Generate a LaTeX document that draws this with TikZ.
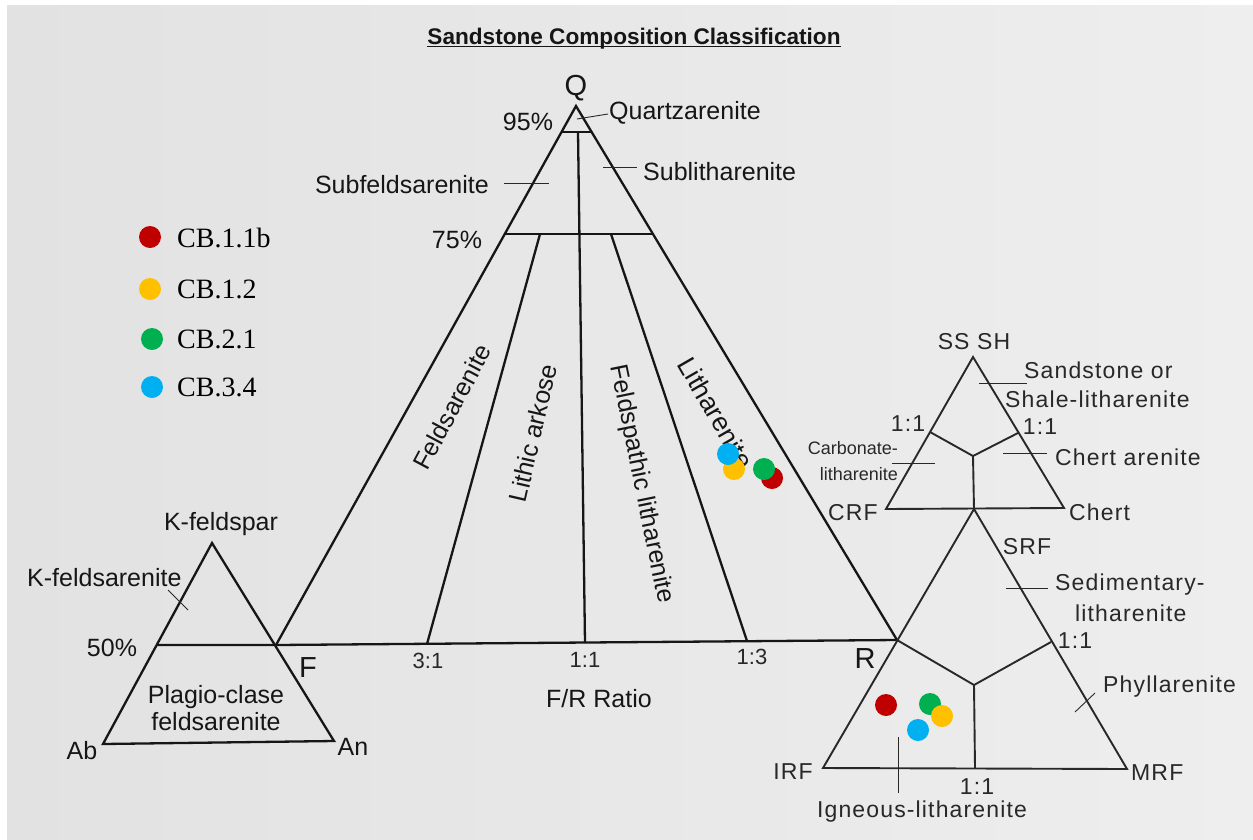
\documentclass[tikz,border=0pt]{standalone}
\usepackage{fontspec}
\setmainfont{Liberation Serif}
\newfontfamily\hv{Liberation Sans}
\newfontfamily\hvw[LetterSpace=5]{Liberation Sans}
\definecolor{ink}{RGB}{22,22,22}
\definecolor{ink2}{RGB}{40,40,40}
\definecolor{bgL}{RGB}{226,226,226}
\definecolor{bgR}{RGB}{238,238,238}
\definecolor{cRed}{RGB}{192,0,0}
\definecolor{cYel}{RGB}{255,192,0}
\definecolor{cGrn}{RGB}{0,176,80}
\definecolor{cBlu}{RGB}{0,176,240}
\begin{document}
\begin{tikzpicture}[x=1pt,y=-1pt,
  lbl/.style={inner sep=0pt, text=ink, font=\hv\fontsize{25}{29}\selectfont},
  rat/.style={inner sep=0pt, text=ink2, font=\hv\fontsize{22}{26}\selectfont},
  mid/.style={inner sep=0pt, text=ink2, font=\hvw\fontsize{23}{27}\selectfont},
  big/.style={inner sep=0pt, text=ink, font=\hv\fontsize{29}{32}\selectfont},
  small/.style={inner sep=0pt, text=ink2, font=\hv\fontsize{18}{26}\selectfont},
  leg/.style={inner sep=0pt, text=black, font=\fontsize{28}{32}\selectfont},
  tri/.style={draw=ink, line width=2.3pt, line join=miter},
  tri2/.style={draw=ink2, line width=1.9pt, line join=miter},
  tick/.style={draw=ink2, line width=0.9pt},
  dot/.style={circle, inner sep=0pt, minimum size=22pt}
]
\useasboundingbox (0,0) rectangle (1253,839);
\fill[white] (0,0) rectangle (1253,839);
\shade[left color=bgL, right color=bgR] (7,5) rectangle (1253,839);

% ---------- title ----------
\node[inner sep=0pt, text=ink, font=\hv\bfseries\fontsize{22.6}{26}\selectfont, anchor=base] (title) at (634,44) {Sandstone Composition Classification};
\draw[ink, line width=1pt] ([yshift=-2pt]title.base west) -- ([yshift=-2pt]title.base east);

% ---------- main triangle ----------
\coordinate (Q) at (576,106);
\coordinate (F) at (276,645);
\coordinate (R) at (897,640);
\coordinate (a95) at (562,132);
\coordinate (b95) at (591,132);
\coordinate (c95) at (578,132);
\coordinate (a75) at (505,234);
\coordinate (b75) at (653,234);
\coordinate (t31) at (540,234);
\coordinate (t13) at (611,234);
\coordinate (r31) at (427,644);
\coordinate (r11) at (585,643);
\coordinate (r13) at (747,641);

% ---------- small feldspar triangle ----------
\coordinate (K) at (212,543);
\coordinate (Ab) at (103,744);
\coordinate (An) at (334,741);
\coordinate (k50) at (157,645);

\draw[tri] (K) -- (Ab) -- (An) -- cycle;
\draw[tri] (k50) -- (F) -- (R);
\draw[tri] (F) -- (Q) -- (R);
\draw[tri] (a95) -- (b95);
\draw[tri] (a75) -- (b75);
\draw[tri] (c95) -- (r11);
\draw[tri] (t31) -- (r31);
\draw[tri] (t13) -- (r13);

% ---------- upper right triangle ----------
\coordinate (S) at (973,357);
\coordinate (C) at (886,509);
\coordinate (H) at (1064,508);
\coordinate (L1) at (930,432);
\coordinate (R1) at (1018,433);
\coordinate (J) at (973,456);
\coordinate (B) at (974,509);
\draw[tri2] (S) -- (C) -- (H) -- cycle;
\draw[tri2] (L1) -- (J) -- (R1);
\draw[tri2] (J) -- (B);

% ---------- lower right triangle ----------
\coordinate (I) at (823,768);
\coordinate (M) at (1127,769);
\coordinate (R2) at (1051,642);
\coordinate (J2) at (974,685);
\coordinate (B2) at (975,768);
\draw[tri2] (B) -- (I) -- (M) -- cycle;
\draw[tri2] (R) -- (J2) -- (R2);
\draw[tri2] (J2) -- (B2);

% ---------- tick marks ----------
\coordinate (tq1) at (577,119); \coordinate (tq2) at (608,114);
\coordinate (ts1) at (603,167); \coordinate (ts2) at (637,167);
\coordinate (tf1) at (504,183); \coordinate (tf2) at (549,183);
\coordinate (tk1) at (168,590); \coordinate (tk2) at (188,610);
\coordinate (tss1) at (979,383); \coordinate (tss2) at (1027,383);
\coordinate (tc1) at (892,463); \coordinate (tc2) at (935,463);
\coordinate (th1) at (1003,453); \coordinate (th2) at (1047,453);
\coordinate (td1) at (1006,588); \coordinate (td2) at (1048,588);
\coordinate (tp1) at (1075,712); \coordinate (tp2) at (1095,693);
\coordinate (ti1) at (898,737); \coordinate (ti2) at (898,793);
\foreach \a/\b in {tq1/tq2, ts1/ts2, tf1/tf2, tk1/tk2, tss1/tss2, tc1/tc2, th1/th2, td1/td2, tp1/tp2, ti1/ti2}
  \draw[tick] (\a) -- (\b);

% ---------- main labels ----------
\node[big] (lQ) at (576,88) {Q};
\node[lbl] (l95) at (528,122) {95\%};
\node[lbl, anchor=west] (lqa) at (609,113) {Quartzarenite};
\node[lbl, anchor=west] (lsl) at (643,172) {Sublitharenite};
\node[lbl, anchor=east] (lsf) at (489,185) {Subfeldsarenite};
\node[lbl] (l75) at (457,240) {75\%};
\node[lbl, rotate=62] (lfa) at (452,407) {Feldsarenite};
\node[lbl, rotate=77] (lla) at (533,433) {Lithic arkose};
\node[lbl, rotate=-78.5] (lfl) at (641,484) {Feldspathic litharenite};
\node[lbl, rotate=-60, font=\hv\fontsize{26.5}{30}\selectfont] (llt) at (716,413) {Litharenite};
\node[rat] (l31) at (428,661) {3:1};
\node[rat] (l11) at (585,660) {1:1};
\node[rat] (l13) at (752,657) {1:3};
\node[lbl] (lfr) at (599,699) {F/R Ratio};
\node[big] (lF) at (308,668) {F};
\node[big] (lR) at (865,659) {R};

% ---------- feldspar triangle labels ----------
\node[lbl] (lkf) at (221,524) {K-feldspar};
\node[lbl, anchor=west] (lks) at (27,578) {K-feldsarenite};
\node[lbl] (l50) at (112,648) {50\%};
\node[lbl, align=center] (lpl) at (216,708) {Plagio-clase\\[-2pt]feldsarenite};
\node[lbl] (lAb) at (82,751) {Ab};
\node[lbl] (lAn) at (353,747) {An};

% ---------- right triangle labels ----------
\node[mid] (lss) at (974,342) {SS SH};
\node[mid, anchor=west] (lso) at (1024,370) {Sandstone or};
\node[mid, anchor=west] (lsh) at (1005,399) {Shale-litharenite};
\node[mid] (l11a) at (908,424) {1:1};
\node[mid] (l11b) at (1040,427) {1:1};
\node[small, align=right, anchor=east] (lcb) at (898,461) {Carbonate-\\litharenite};
\node[mid, anchor=west] (lca) at (1055,457) {Chert arenite};
\node[mid] (lcrf) at (853,513) {CRF};
\node[mid, anchor=west] (lch) at (1069,512) {Chert};
\node[mid] (lsrf) at (1027,547) {SRF};
\node[mid, anchor=west] (lsd) at (1055,585) {Sedimentary-};
\node[mid, anchor=west] (lsd2) at (1075,613) {litharenite};
\node[mid] (l11c) at (1075,641) {1:1};
\node[mid, anchor=west] (lph) at (1103,687) {Phyllarenite};
\node[mid] (lirf) at (793,772) {IRF};
\node[mid, anchor=west] (lmrf) at (1131,773) {MRF};
\node[mid] (l11d) at (977,787) {1:1};
\node[mid] (lig) at (922,812) {Igneous-litharenite};

% ---------- legend ----------
\node[dot, fill=cRed] (g1) at (150,237) {};
\node[dot, fill=cYel] (g2) at (150,289) {};
\node[dot, fill=cGrn] (g3) at (152,339) {};
\node[dot, fill=cBlu] (g4) at (152,387) {};
\node[leg, anchor=west] (t1) at (177,238) {CB.1.1b};
\node[leg, anchor=west] (t2) at (177,289) {CB.1.2};
\node[leg, anchor=west] (t3) at (177,339) {CB.2.1};
\node[leg, anchor=west] (t4) at (177,387) {CB.3.4};

% ---------- data points: main triangle ----------
\node[dot, fill=cRed] (m1) at (772,478) {};
\node[dot, fill=cYel] (m2) at (734,469) {};
\node[dot, fill=cGrn] (m3) at (764,469) {};
\node[dot, fill=cBlu] (m4) at (728,454) {};

% ---------- data points: rock fragment triangle ----------
\node[dot, fill=cRed] (p1) at (886,705) {};
\node[dot, fill=cGrn] (p3) at (930,704) {};
\node[dot, fill=cYel] (p2) at (942,716) {};
\node[dot, fill=cBlu] (p4) at (918,730) {};
\end{tikzpicture}
\end{document}
